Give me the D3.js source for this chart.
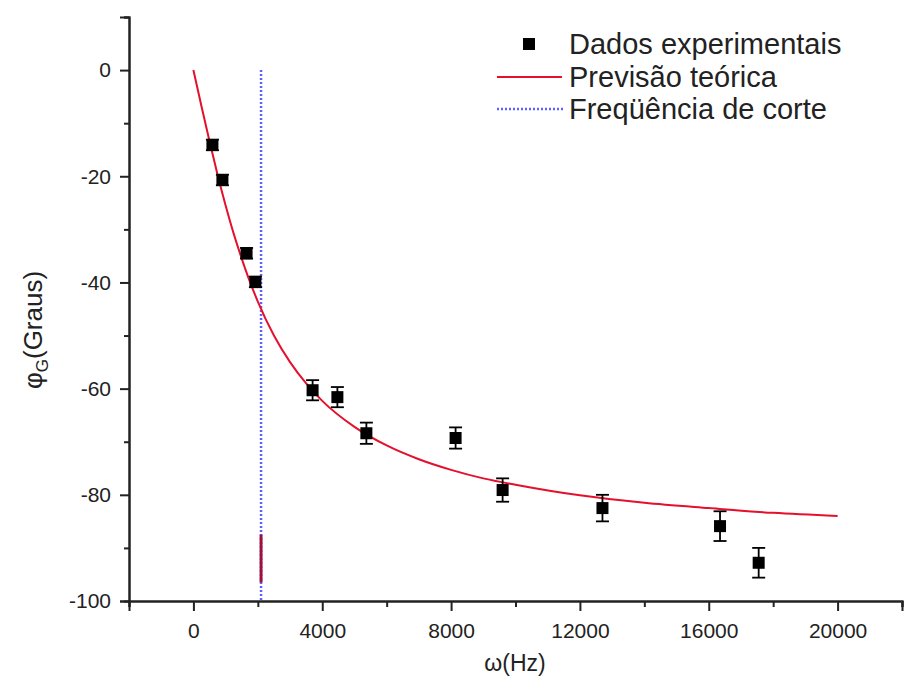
<!DOCTYPE html>
<html>
<head>
<meta charset="utf-8">
<script src="https://cdn.jsdelivr.net/npm/d3@7"></script>
<style>
  html, body { margin: 0; padding: 0; background: #fff; }
  text { font-family: "Liberation Sans", Arial, sans-serif; }
</style>
</head>
<body>
<svg id="chart" width="912" height="690"></svg>
<script>
// ---- data ----
const omegaData = [590, 900, 1650, 1925, 3700, 4470, 5370, 8140, 9600, 12700, 16350, 17550];
const phaseData = [-14.1, -20.7, -34.5, -39.9, -60.3, -61.6, -68.4, -69.3, -79.1, -82.5, -85.9, -92.8];
const phaseErr  = [1, 1, 1, 1, 1.9, 1.9, 2, 2, 2.2, 2.5, 2.8, 2.8];

const curveOmega = [0, 250, 500, 750, 1000, 1250, 1500, 1750, 2000, 2500, 3000, 3500, 4000, 5000, 6000, 7000, 8000, 9000, 10000, 12000, 14000, 16000, 18000, 20000];
const curvePhase = [0, -6.8, -13.4, -19.7, -25.5, -30.8, -35.5, -39.8, -43.6, -50.0, -55.0, -59.0, -62.3, -67.2, -70.7, -73.3, -75.3, -76.9, -78.1, -80.1, -81.5, -82.5, -83.4, -84.0];

const cutoffOmega = 2100;
const cutoffRange = [0, -100];
const cutoffSolid = [-87.5, -96.5];

const xMajorTicks = [0, 4000, 8000, 12000, 16000, 20000];
const xMinorTicks = [-2000, 2000, 6000, 10000, 14000, 18000, 22000];
const yMajorTicks = [0, -20, -40, -60, -80, -100];
const yMinorTicks = [10, -10, -30, -50, -70, -90];

const legendLabels = ["Dados experimentais", "Previsão teórica", "Freqüência de corte"];

// ---- layout ----
const svg = d3.select("#chart");
const x = d3.scaleLinear().domain([-2000, 22000]).range([129, 902]);
const y = d3.scaleLinear().domain([-100, 10]).range([601, 17]);

const axisColor = "#222";
const FONT = "'Liberation Sans', Arial, sans-serif";

// X axis
const gx = svg.append("g").attr("transform", `translate(0,${y(-100)})`);
gx.call(d3.axisBottom(x).tickValues(xMajorTicks).tickSize(10).tickPadding(12).tickFormat(d3.format("d")));
gx.append("g").call(d3.axisBottom(x).tickValues(xMinorTicks).tickSize(6).tickFormat(""));
gx.selectAll(".domain").attr("stroke", axisColor).attr("stroke-width", 2);
gx.selectAll(".tick line").attr("stroke", axisColor).attr("stroke-width", 2);
gx.selectAll("text").attr("font-size", 21).attr("fill", "#222").attr("font-family", FONT);

// Y axis
const gy = svg.append("g").attr("transform", `translate(${x(-2000)},0)`);
gy.call(d3.axisLeft(y).tickValues(yMajorTicks).tickSize(9).tickPadding(9).tickFormat(d => String(d)));
gy.append("g").call(d3.axisLeft(y).tickValues(yMinorTicks).tickSize(5).tickFormat(""));
gy.selectAll(".domain").attr("stroke", axisColor).attr("stroke-width", 2);
gy.selectAll(".tick line").attr("stroke", axisColor).attr("stroke-width", 2);
gy.selectAll("text").attr("font-size", 21).attr("fill", "#222").attr("font-family", FONT);

// Axis titles
svg.append("text").attr("x", 515).attr("y", 671).attr("text-anchor", "middle")
  .attr("font-size", 23).attr("fill", "#222").text("ω(Hz)");
const yt = svg.append("text").attr("transform", "translate(42,330) rotate(-90)")
  .attr("text-anchor", "middle").attr("font-size", 26).attr("fill", "#222");
yt.append("tspan").text("φ");
yt.append("tspan").attr("font-size", 17).attr("dy", 6).text("G");
yt.append("tspan").attr("dy", -6).text("(Graus)");

// Cutoff line (dotted blue)
svg.append("line")
  .attr("x1", x(cutoffOmega)).attr("x2", x(cutoffOmega))
  .attr("y1", y(cutoffRange[0])).attr("y2", y(cutoffRange[1]))
  .attr("stroke", "#6060ff").attr("stroke-width", 2.5).attr("stroke-dasharray", "2,2");
svg.append("line")
  .attr("x1", x(cutoffOmega)).attr("x2", x(cutoffOmega))
  .attr("y1", y(cutoffSolid[0])).attr("y2", y(cutoffSolid[1]))
  .attr("stroke", "#a0103c").attr("stroke-width", 3);

// Theory curve
const line = d3.line().x((d, i) => x(curveOmega[i])).y(d => y(d)).curve(d3.curveMonotoneX);
svg.append("path").datum(curvePhase).attr("d", line)
  .attr("fill", "none").attr("stroke", "#e4102c").attr("stroke-width", 2);

// Data points with error bars
const pts = omegaData.map((w, i) => ({ w, p: phaseData[i], e: phaseErr[i] }));
const gp = svg.append("g");
const capW = 6.5, sq = 12;
pts.forEach(d => {
  const cx = x(d.w);
  gp.append("line").attr("x1", cx).attr("x2", cx).attr("y1", y(d.p + d.e)).attr("y2", y(d.p - d.e))
    .attr("stroke", "#000").attr("stroke-width", 1.8);
  [d.p + d.e, d.p - d.e].forEach(v => {
    gp.append("line").attr("x1", cx - capW).attr("x2", cx + capW).attr("y1", y(v)).attr("y2", y(v))
      .attr("stroke", "#000").attr("stroke-width", 1.8);
  });
  gp.append("rect").attr("x", cx - sq / 2).attr("y", y(d.p) - sq / 2).attr("width", sq).attr("height", sq)
    .attr("fill", "#000");
});

// Legend
const lg = svg.append("g");
const rowY = [44, 77, 109];
lg.append("rect").attr("x", 523).attr("y", rowY[0] - 6).attr("width", 12).attr("height", 12).attr("fill", "#000");
lg.append("line").attr("x1", 497).attr("x2", 562).attr("y1", rowY[1]).attr("y2", rowY[1])
  .attr("stroke", "#e4102c").attr("stroke-width", 2);
lg.append("line").attr("x1", 497).attr("x2", 563).attr("y1", rowY[2]).attr("y2", rowY[2])
  .attr("stroke", "#6060ff").attr("stroke-width", 2.5).attr("stroke-dasharray", "2,2");
legendLabels.forEach((t, i) => {
  lg.append("text").attr("x", 569).attr("y", rowY[i]).attr("dy", "0.36em")
    .attr("font-size", 29).attr("fill", "#222").text(t);
});
</script>
</body>
</html>
